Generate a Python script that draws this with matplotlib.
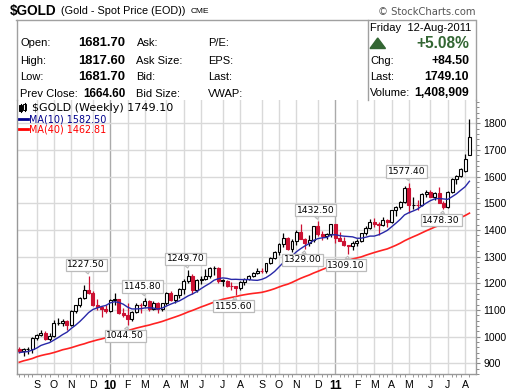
import matplotlib
matplotlib.use("Agg")
import matplotlib.pyplot as plt
from matplotlib.patches import Rectangle, Polygon
from matplotlib.lines import Line2D
import numpy as np
import pandas as pd

# ---------------- data (weekly, weeks starting 2009-08-10) ----------------
opens = [955, 948, 953, 955, 996, 1006, 1014, 992, 1003, 1050,
         1051, 1057, 1043, 1096, 1118, 1146, 1175, 1162, 1120, 1110,
         1104, 1096, 1138, 1140, 1090, 1083, 1065, 1093, 1120, 1118,
         1133, 1103, 1126, 1104, 1125, 1162, 1136, 1155, 1180, 1208,
         1228, 1176, 1213, 1217, 1228, 1256, 1256, 1210, 1210, 1190,
         1189, 1181, 1204, 1215, 1227, 1237, 1247, 1246, 1276, 1296,
         1317, 1346, 1370, 1328, 1358, 1394, 1366, 1352, 1363, 1413,
         1385, 1375.4, 1384, 1421, 1369, 1360, 1343, 1340, 1350, 1360,
         1388, 1409, 1429, 1421, 1418, 1437, 1429, 1474, 1486, 1504,
         1556, 1492, 1493, 1492, 1536, 1542, 1524, 1539, 1501, 1486,
         1541, 1592, 1600.3, 1620, 1681.7]
highs = [962, 957, 961, 1000, 1010, 1025, 1020, 1012, 1062, 1070,
         1068, 1062, 1101, 1120, 1150, 1195, 1227.5, 1170, 1140, 1115,
         1120, 1140, 1162, 1142, 1106, 1125, 1095, 1127, 1125, 1145.8,
         1137, 1135, 1128, 1127, 1167, 1170, 1157, 1182, 1215, 1249.7,
         1234, 1217, 1227, 1252, 1261, 1265, 1262, 1215, 1214, 1205,
         1190, 1210, 1220, 1232, 1242, 1256, 1258, 1276, 1300, 1320,
         1350, 1387, 1375, 1365, 1398, 1424, 1370, 1380, 1415, 1432.5,
         1395, 1390, 1422, 1424, 1392, 1375, 1345, 1360, 1366, 1390,
         1415, 1440, 1445, 1430, 1448, 1440, 1476, 1488, 1510, 1566,
         1577.4, 1522, 1513, 1537, 1549, 1548, 1544, 1560, 1508, 1545,
         1595, 1605, 1633, 1685, 1817.6]
lows = [937, 929, 935, 940, 989, 1001, 986, 985, 1000, 1043,
        1040, 1026, 1040, 1090, 1112, 1140, 1160, 1115, 1100, 1075,
        1090, 1092, 1120, 1085, 1075, 1044.5, 1057, 1088, 1087, 1113,
        1097, 1100, 1088, 1098, 1120, 1133, 1125, 1145, 1160, 1200,
        1160, 1167, 1196, 1212, 1220, 1230, 1200, 1190, 1185, 1175,
        1155.6, 1175, 1192, 1212, 1223, 1233, 1240, 1240, 1272, 1290,
        1305, 1335, 1325, 1318, 1345, 1370, 1329, 1340, 1356, 1378,
        1361, 1365, 1375, 1352, 1360, 1340, 1309.1, 1325, 1340, 1355,
        1380, 1405, 1412, 1381, 1415, 1412, 1425, 1454, 1480, 1500,
        1462, 1480, 1476, 1490, 1523, 1522, 1512, 1515, 1478.3, 1483,
        1540, 1574, 1597, 1616, 1681.7]
closes = [948, 953, 955, 996, 1006, 1014, 992, 1003, 1050, 1051,
          1057, 1043, 1096, 1118, 1146, 1175, 1162, 1120, 1110, 1104,
          1096, 1138, 1140, 1090, 1083, 1065, 1093, 1120, 1118, 1133,
          1103, 1126, 1104, 1125, 1162, 1136, 1155, 1180, 1208, 1228,
          1176, 1213, 1217, 1228, 1256, 1256, 1210, 1210, 1190, 1189,
          1181, 1204, 1215, 1227, 1237, 1247, 1246, 1276, 1296, 1317,
          1346, 1370, 1328, 1358, 1394, 1366, 1352, 1363, 1413, 1385,
          1375.4, 1384, 1421, 1369, 1360, 1343, 1340, 1350, 1360, 1388,
          1409, 1429, 1421, 1418, 1437, 1429, 1474, 1486, 1504, 1556,
          1492, 1493, 1492, 1536, 1542, 1524, 1539, 1501, 1486, 1541,
          1592, 1600.3, 1628, 1664.6, 1749.1]
# weekly closes before the visible window (needed for the 40-week average)
history_closes = [740, 795, 815, 752, 823, 840, 873, 878, 853, 840,
                  899, 928, 914, 943, 1002, 942, 940, 928, 953, 922,
                  898, 882, 866, 912, 885, 915, 931, 956, 976, 960,
                  935, 937, 940, 933, 913, 937, 952, 955, 955]
first_week = "2009-08-10"
market_holidays = ["2009-09-07", "2010-01-18", "2010-02-15", "2010-05-31",
                   "2010-07-05", "2010-09-06", "2011-01-17", "2011-02-21",
                   "2011-05-30", "2011-07-04"]
labelled_highs = [16, 29, 39, 69, 90]
labelled_lows = [25, 50, 66, 76, 98]

header_left = [("Open:", "1681.70", "Ask:", "P/E:"),
               ("High:", "1817.60", "Ask Size:", "EPS:"),
               ("Low:", "1681.70", "Bid:", "Last:"),
               ("Prev Close:", "1664.60", "Bid Size:", "VWAP:")]
header_right = [("Chg:", "+84.50"), ("Last:", "1749.10"), ("Volume:", "1,408,909")]

# ---------------- figure ----------------
W, H = 520, 391
fig = plt.figure(figsize=(W / 100, H / 100), dpi=100)
fig.patch.set_facecolor("white")


def fx(x):
    return x / W


def fy(y):
    return 1 - y / H


AX_L, AX_R, AX_T, AX_B = 16.5, 475.5, 100, 374
ax = fig.add_axes([fx(AX_L), fy(AX_B), (AX_R - AX_L) / W, (AX_B - AX_T) / H])

n = len(closes)
xi = np.arange(n)
RED = "#CC1133"
GRID = "#D9D9D9"

# moving averages
allc = pd.Series(history_closes + closes, dtype=float)
ma10 = allc.rolling(10).mean().to_numpy()[-n:]
ma40 = allc.rolling(40).mean().to_numpy()[-n:]

# candles
for i in xi:
    o, h, l, c = opens[i], highs[i], lows[i], closes[i]
    prev = closes[i - 1] if i > 0 else history_closes[-1]
    col = "black" if c >= prev else RED
    ax.vlines(i, l, h, color=col, lw=0.9, zorder=3)
    lo, hi = min(o, c), max(o, c)
    face = "white" if c > o else col
    ax.add_patch(Rectangle((i - 0.34, lo), 0.68, max(hi - lo, 1.0),
                           fc=face, ec=col, lw=0.8, zorder=4))

ax.plot(xi, ma10, color="#2828A8", lw=1.0, zorder=5)
ax.plot(xi, ma40, color="#FF2222", lw=1.2, zorder=5)

# labels on significant highs / lows
for i in labelled_highs + labelled_lows:
    is_high = i in labelled_highs
    val = highs[i] if is_high else lows[i]
    ax.annotate(f"{val:.2f}", xy=(i, val),
                xytext=(-1.6, 8.0 if is_high else -8.0), textcoords="offset points",
                ha="center", va="center", fontsize=6.6, family="DejaVu Sans",
                color="black", zorder=8,
                bbox=dict(boxstyle="square,pad=0.18", fc="white", ec="#BBBBBB", lw=0.9),
                arrowprops=dict(arrowstyle="wedge,tail_width=0.45,shrink_factor=0.5",
                                fc="white", ec="#BBBBBB", lw=0.8,
                                shrinkA=0, shrinkB=1.5))

# axes limits
ax.set_xlim(-0.65, 105.4)
ax.set_ylim(860, 1887)

# month ticks from bar dates
mondays = pd.date_range(first_week, periods=n, freq="7D")
hol = set(pd.to_datetime(market_holidays))
bar_dates = [d + pd.Timedelta(days=1) if d in hol else d for d in mondays]
month_idx, month_lab, year_flag = [], [], []
for i in range(1, n):
    if bar_dates[i].month != bar_dates[i - 1].month:
        month_idx.append(i)
        if bar_dates[i].month == 1:
            month_lab.append(bar_dates[i].strftime("%y"))
            year_flag.append(True)
        else:
            month_lab.append(bar_dates[i].strftime("%b")[0])
            year_flag.append(False)

ax.set_xticks(month_idx)
ax.set_xticklabels(month_lab)
for lab, yr in zip(ax.get_xticklabels(), year_flag):
    lab.set_family("Liberation Sans")
    lab.set_fontsize(8.5 if yr else 7.6)
    if yr:
        lab.set_fontweight("bold")
ax.set_xticks(xi, minor=True)
for i, yr in zip(month_idx, year_flag):
    ax.axvline(i, color="#AAAAAA" if yr else GRID, lw=1.0, zorder=0)

ax.set_yticks(range(900, 1900, 100))
ax.set_yticks(range(860, 1890, 20), minor=True)
ax.yaxis.tick_right()
for lab in ax.get_yticklabels():
    lab.set_family("Liberation Sans")
    lab.set_fontsize(7.6)
ax.grid(axis="y", which="major", color=GRID, lw=1.0, zorder=0)
ax.tick_params(axis="y", which="major", length=3, width=0.8, color="#888888", pad=2.5)
ax.tick_params(axis="y", which="minor", length=1.8, width=0.7, color="#888888")
ax.tick_params(axis="x", which="major", length=0, pad=4)
ax.tick_params(axis="x", which="minor", length=1.8, width=0.7, color="#999999")
for s in ["left", "right", "bottom"]:
    ax.spines[s].set_color("#999999")
    ax.spines[s].set_linewidth(1.0)
ax.spines["top"].set_visible(False)

# legend inside plot
ax_leg_y = [107.7, 119, 129.3]
for k, (dx, top, bot) in enumerate([(20.5, 104.5, 111), (24.5, 103.5, 110)]):
    fig.add_artist(Line2D([fx(dx), fx(dx)], [fy(top - 1), fy(bot + 1)], color="black", lw=0.8))
    fig.add_artist(Rectangle((fx(dx - 1.2), fy(bot)), 2.4 / W, (bot - top) / H,
                             fc="black" if k == 0 else "white", ec="black", lw=0.7,
                             transform=fig.transFigure))
fig.text(fx(31.5), fy(ax_leg_y[0]), f"$GOLD (Weekly) {closes[-1]:.2f}", fontsize=8.0,
         family="DejaVu Sans", va="center", ha="left", color="black")
fig.add_artist(Line2D([fx(19), fx(28)], [fy(ax_leg_y[1])] * 2, color="#00008B", lw=2))
fig.text(fx(29), fy(ax_leg_y[1]), f"MA(10) {ma10[-1]:.2f}", fontsize=6.9,
         family="DejaVu Sans", va="center", ha="left", color="#00008B")
fig.add_artist(Line2D([fx(19), fx(28)], [fy(ax_leg_y[2])] * 2, color="#FF0000", lw=2))
fig.text(fx(29), fy(ax_leg_y[2]), f"MA(40) {ma40[-1]:.2f}", fontsize=6.9,
         family="DejaVu Sans", va="center", ha="left", color="#FF0000")

# ---------------- header ----------------
SANS = "Liberation Sans"
fig.text(fx(9.5), fy(11), "$GOLD", fontsize=9.8, fontweight="bold", family=SANS,
         va="center", ha="left")
fig.text(fx(61), fy(11.3), "(Gold - Spot Price (EOD))", fontsize=7.8, family=SANS,
         va="center", ha="left")
fig.text(fx(190.5), fy(11.8), "CME", fontsize=6.0, family=SANS, va="center", ha="left")
fig.text(fx(475), fy(12.3), "\u00a9 StockCharts.com", fontsize=7.2, family="DejaVu Sans",
         color="#555555", va="center", ha="right")

LINE = "#A0A0A0"
for (x0, y0, x1, y1) in [(16, 20, 475, 20), (16.5, 20, 16.5, AX_T), (475.5, 20, 475.5, AX_T),
                         (368, 20, 368, AX_T)]:
    fig.add_artist(Line2D([fx(x0), fx(x1)], [fy(y0), fy(y1)], color=LINE, lw=1.0))

row_y = [43.3, 60.5, 77, 94]
for k, ((a, v, b, c), yy) in enumerate(zip(header_left, row_y)):
    fig.text(fx(20.5), fy(yy), a, fontsize=8.0, family=SANS, va="center", ha="left")
    fig.text(fx(125.5), fy(yy), v, fontsize=9.4 if k < 3 else 8.4, fontweight="bold",
             family=SANS, va="center", ha="right")
    fig.text(fx(136.5), fy(yy), b, fontsize=8.0, family=SANS, va="center", ha="left")
    fig.text(fx(208), fy(yy), c, fontsize=8.0, family=SANS, va="center", ha="left")

GREEN = "#336633"
fig.text(fx(370), fy(28.3), "Friday  12-Aug-2011", fontsize=8.0, family=SANS,
         va="center", ha="left")
fig.add_artist(Polygon([[fx(370), fy(48.5)], [fx(385.5), fy(48.5)], [fx(377.7), fy(38)]],
                       closed=True, fc=GREEN, ec=GREEN, transform=fig.transFigure))
fig.text(fx(469), fy(43.5), "+5.08%", fontsize=11.2, fontweight="bold", family=SANS,
         color=GREEN, va="center", ha="right")
for (a, v), yy in zip(header_right, [60.5, 77, 93.2]):
    fig.text(fx(370), fy(yy), a, fontsize=8.0, family=SANS, va="center", ha="left")
    fig.text(fx(469), fy(yy), v, fontsize=8.8, fontweight="bold", family=SANS,
             va="center", ha="right")

fig.savefig("out.png", dpi=100)
